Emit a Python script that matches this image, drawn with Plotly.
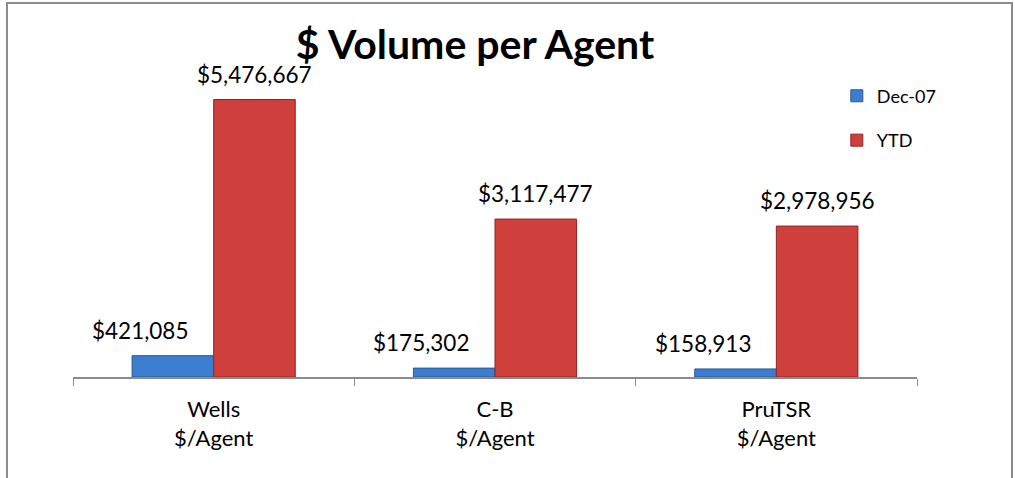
import plotly.graph_objects as go

categories = ["Wells<br>$/Agent", "C-B<br>$/Agent", "PruTSR<br>$/Agent"]
dec07 = [421085, 175302, 158913]
ytd = [5476667, 3117477, 2978956]

font_family = "Lato, 'Open Sans', sans-serif"

plot_w = 844
bargap = 0.42
bar_px = (1 - bargap) / 2 * plot_w / len(categories)
half_bar = bar_px / 2

fig = go.Figure()
fig.add_trace(go.Bar(
    x=categories,
    y=dec07,
    name="Dec-07",
    marker=dict(color="#3d7dcf", line=dict(color="#2a5a9a", width=1)),
    legendgroup="a",
))
fig.add_trace(go.Bar(
    x=categories,
    y=ytd,
    name="YTD",
    marker=dict(color="#cf3f3c", line=dict(color="#8e2624", width=1)),
    legendgroup="b",
))

# data labels (Dec-07 labels sit a little to the left of their bars)
for cat, v in zip(categories, dec07):
    fig.add_annotation(
        x=cat, y=v, text=f"${v:,}", showarrow=False,
        xanchor="center", yanchor="bottom",
        xshift=-half_bar - 33, yshift=10,
        font=dict(size=22.5, color="#000000"),
    )
for cat, v in zip(categories, ytd):
    fig.add_annotation(
        x=cat, y=v, text=f"${v:,}", showarrow=False,
        xanchor="center", yanchor="bottom",
        xshift=half_bar, yshift=10,
        font=dict(size=22.5, color="#000000"),
    )

fig.update_layout(
    width=1015,
    height=478,
    margin=dict(l=73, r=98, t=73, b=101),
    paper_bgcolor="white",
    plot_bgcolor="white",
    font=dict(family=font_family, size=20, color="#000000"),
    title=dict(
        text="<b>$ Volume per Agent</b>",
        x=475 / 1015,
        xanchor="center",
        y=1 - 45 / 478,
        yanchor="middle",
        font=dict(size=41, family=font_family, color="#000000"),
    ),
    barmode="group",
    bargap=bargap,
    bargroupgap=0,
    legend=dict(
        x=0.905,
        y=0.985,
        xanchor="left",
        yanchor="top",
        font=dict(size=18),
        traceorder="grouped",
        tracegroupgap=18,
        itemwidth=30,
        bgcolor="rgba(0,0,0,0)",
    ),
    showlegend=True,
)
fig.update_xaxes(
    showline=True,
    linecolor="#8c8c8c",
    linewidth=1.5,
    ticks="outside",
    tickson="boundaries",
    tickcolor="#8c8c8c",
    ticklen=7,
    ticklabelstandoff=12,
    tickfont=dict(size=22),
    fixedrange=True,
)
fig.update_yaxes(
    range=[0, 6000000],
    visible=False,
    showgrid=False,
    fixedrange=True,
)

# chart frame border
fig.add_shape(
    type="rect",
    xref="paper", yref="paper",
    x0=(7 - 73) / 844, x1=(1012 - 73) / 844,
    y0=(377 - 495) / 304, y1=(377 - 3) / 304,
    line=dict(color="#8c8c8c", width=2),
    fillcolor="rgba(0,0,0,0)",
    layer="below",
)

fig.write_html(
    "out.html",
    config={"displayModeBar": False},
    post_script="document.body.style.margin='0px';",
)
